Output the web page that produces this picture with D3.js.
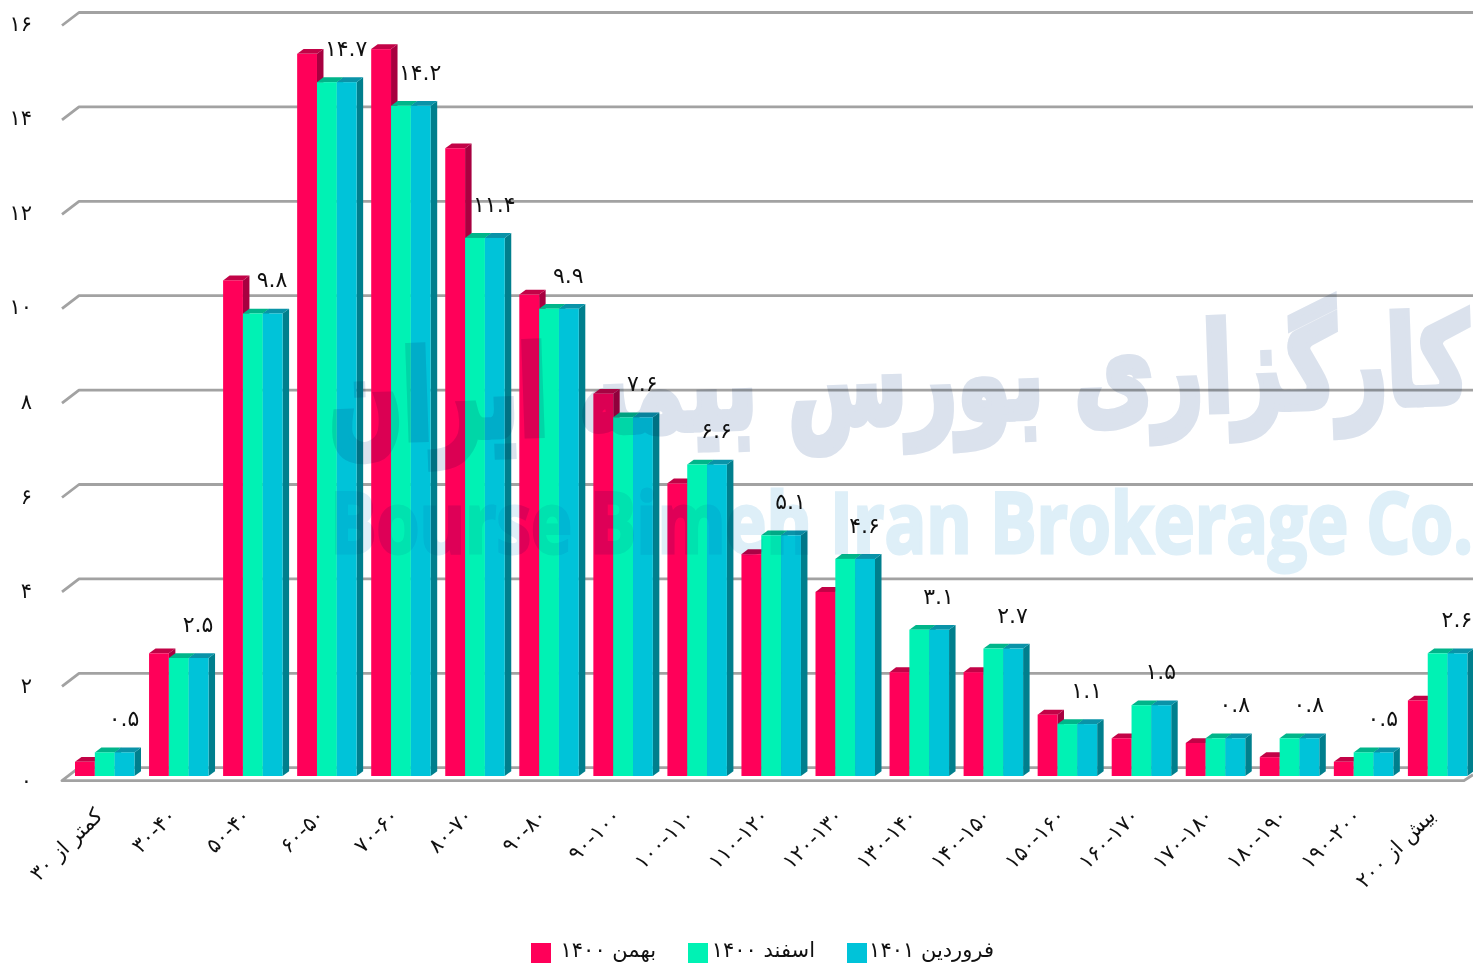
<!DOCTYPE html>
<html><head><meta charset="utf-8">
<script src="https://cdn.jsdelivr.net/npm/d3@7"></script>
<style>html,body{margin:0;padding:0;background:#fff;overflow:hidden}svg{display:block}</style>
</head><body><svg id="c" width="1473" height="964"></svg>
<script>
const categories=["کمتر از ۳۰","۳۰-۴۰","۵۰-۴۰","۶۰-۵۰","۷۰-۶۰","۸۰-۷۰","۹۰-۸۰","۹۰-۱۰۰","۱۰۰-۱۱۰","۱۱۰-۱۲۰","۱۲۰-۱۳۰","۱۳۰-۱۴۰","۱۴۰-۱۵۰","۱۵۰-۱۶۰","۱۶۰-۱۷۰","۱۷۰-۱۸۰","۱۸۰-۱۹۰","۱۹۰-۲۰۰","بیش از ۲۰۰"];
const bahman=[0.3,2.6,10.5,15.3,15.4,13.3,10.2,8.1,6.2,4.7,3.9,2.2,2.2,1.3,0.8,0.7,0.4,0.3,1.6];
const esfand=[0.5,2.5,9.8,14.7,14.2,11.4,9.9,7.6,6.6,5.1,4.6,3.1,2.7,1.1,1.5,0.8,0.8,0.5,2.6];
const farvardin=[0.5,2.5,9.8,14.7,14.2,11.4,9.9,7.6,6.6,5.1,4.6,3.1,2.7,1.1,1.5,0.8,0.8,0.5,2.6];
const seriesNames=["بهمن ۱۴۰۰","اسفند ۱۴۰۰","فروردین ۱۴۰۱"];
const yTicks=[0,2,4,6,8,10,12,14,16];
const colors=["#ff0059","#00f2b4","#00c3d9"];
const topCols=["#c20347","#00b58a","#0a93a8"];
const sideCols=["#a80040","#00a080","#007f8d"];
const FONT="'DejaVu Sans',sans-serif";
const fa=s=>String(s).replace(/\d/g,d=>"۰۱۲۳۴۵۶۷۸۹"[+d]);

const svg=d3.select("#c");
const y=d3.scaleLinear().domain([0,16]).range([776,776-16*47.2]);
const x=d3.scaleBand().domain(categories).range([75,75+19*74.05-14.55]).paddingInner(14.55/74.05);
const x1=d3.scaleBand().domain([0,1,2]).range([0,x.bandwidth()]);
const dx=6.5,dy=4.8;
const wallDx=17,wallDy=13,backOff=-8.3;
const left=62;

// grid
const grid=svg.append("g").attr("fill","none").attr("stroke","#a2a2a2").attr("stroke-width",2.8);
yTicks.forEach(t=>{
  const b=y(t)+backOff;
  const pts=t===0
    ?[[1473,b],[left+wallDx,b],[left,b+wallDy],[1464,b+wallDy],[1473,b+wallDy-6]]
    :[[left,b+wallDy],[left+wallDx,b],[1473,b]];
  grid.append("path").attr("d",d3.line()(pts)).attr("stroke-linejoin","round");
});

// tick labels
svg.append("g").selectAll("text").data(yTicks).join("text")
  .attr("x",32).attr("y",t=>y(t)+backOff+13+7-(t/16)*2)
  .attr("text-anchor","end").attr("direction","ltr")
  .attr("font-family",FONT).attr("font-size",21).attr("fill","#111")
  .text(t=>fa(t));

// bars
const series=[bahman,esfand,farvardin];
categories.forEach((c,i)=>{
  const g=svg.append("g");
  series.forEach((vals,s)=>{
    const x0=x(c)+x1(s),w=x1.bandwidth(),yt=y(vals[i]),yb=y(0);
    g.append("path").attr("fill",sideCols[s])
      .attr("d",d3.line()([[x0+w,yt],[x0+w+dx,yt-dy],[x0+w+dx,yb-dy],[x0+w,yb]])+"Z");
    g.append("path").attr("fill",topCols[s])
      .attr("d",d3.line()([[x0,yt],[x0+dx,yt-dy],[x0+w+dx,yt-dy],[x0+w,yt]])+"Z");
    g.append("rect").attr("x",x0).attr("y",yt).attr("width",w).attr("height",yb-yt).attr("fill",colors[s]);
  });
});

// value labels
svg.append("g").selectAll("text").data(categories).join("text")
  .attr("x",c=>x(c)+49).attr("y",(c,i)=>y(farvardin[i])-26)
  .attr("text-anchor","middle").attr("direction","ltr")
  .attr("font-family",FONT).attr("font-size",22).attr("fill","#111")
  .text((c,i)=>fa(d3.format(".1f")(farvardin[i])));

// category labels
const isWord=c=>/[^\u06F0-\u06F9\-]/.test(c);
svg.append("g").selectAll("text").data(categories).join("text")
  .attr("transform",c=>`translate(${x(c)+x.bandwidth()/2-1},${817}) rotate(-45)`)
  .attr("direction",c=>isWord(c)?"rtl":"ltr")
  .attr("text-anchor",c=>isWord(c)?"start":"end")
  .attr("font-family",FONT).attr("font-size",21).attr("fill","#111")
  .text(c=>c);

// legend
const lgX=[531,688,847],lgT=[656,815,994];
const lg=svg.append("g");
seriesNames.forEach((n,i)=>{
  lg.append("rect").attr("x",lgX[i]).attr("y",943).attr("width",20).attr("height",20).attr("fill",colors[i]);
  lg.append("text").attr("x",lgT[i]).attr("y",957).attr("direction","rtl").attr("text-anchor","start")
    .attr("font-family",FONT).attr("font-size",21).attr("fill","#111").text(n);
});

// watermark
const wm=svg.append("g").style("mix-blend-mode","multiply").attr("pointer-events","none");
wm.append("text").attr("direction","rtl").attr("text-anchor","start")
  .attr("transform","translate(1471,402) rotate(-2)")
  .attr("font-family",FONT).attr("font-weight","bold").attr("font-size",122).attr("fill","#dbe2ed")
  .attr("stroke","#dbe2ed").attr("stroke-width",7).attr("stroke-linejoin","miter")
  .attr("textLength",1142).attr("lengthAdjust","spacingAndGlyphs")
  .text("کارگزاری بورس بیمه ایران");
wm.append("text").attr("x",330).attr("y",553)
  .attr("font-family","'Open Sans',sans-serif").attr("font-weight","bold").attr("font-size",84).attr("fill","#deeff8")
  .attr("stroke","#deeff8").attr("stroke-width",3)
  .attr("textLength",1143).attr("lengthAdjust","spacingAndGlyphs")
  .text("Bourse Bimeh Iran Brokerage Co.");
</script></body></html>
